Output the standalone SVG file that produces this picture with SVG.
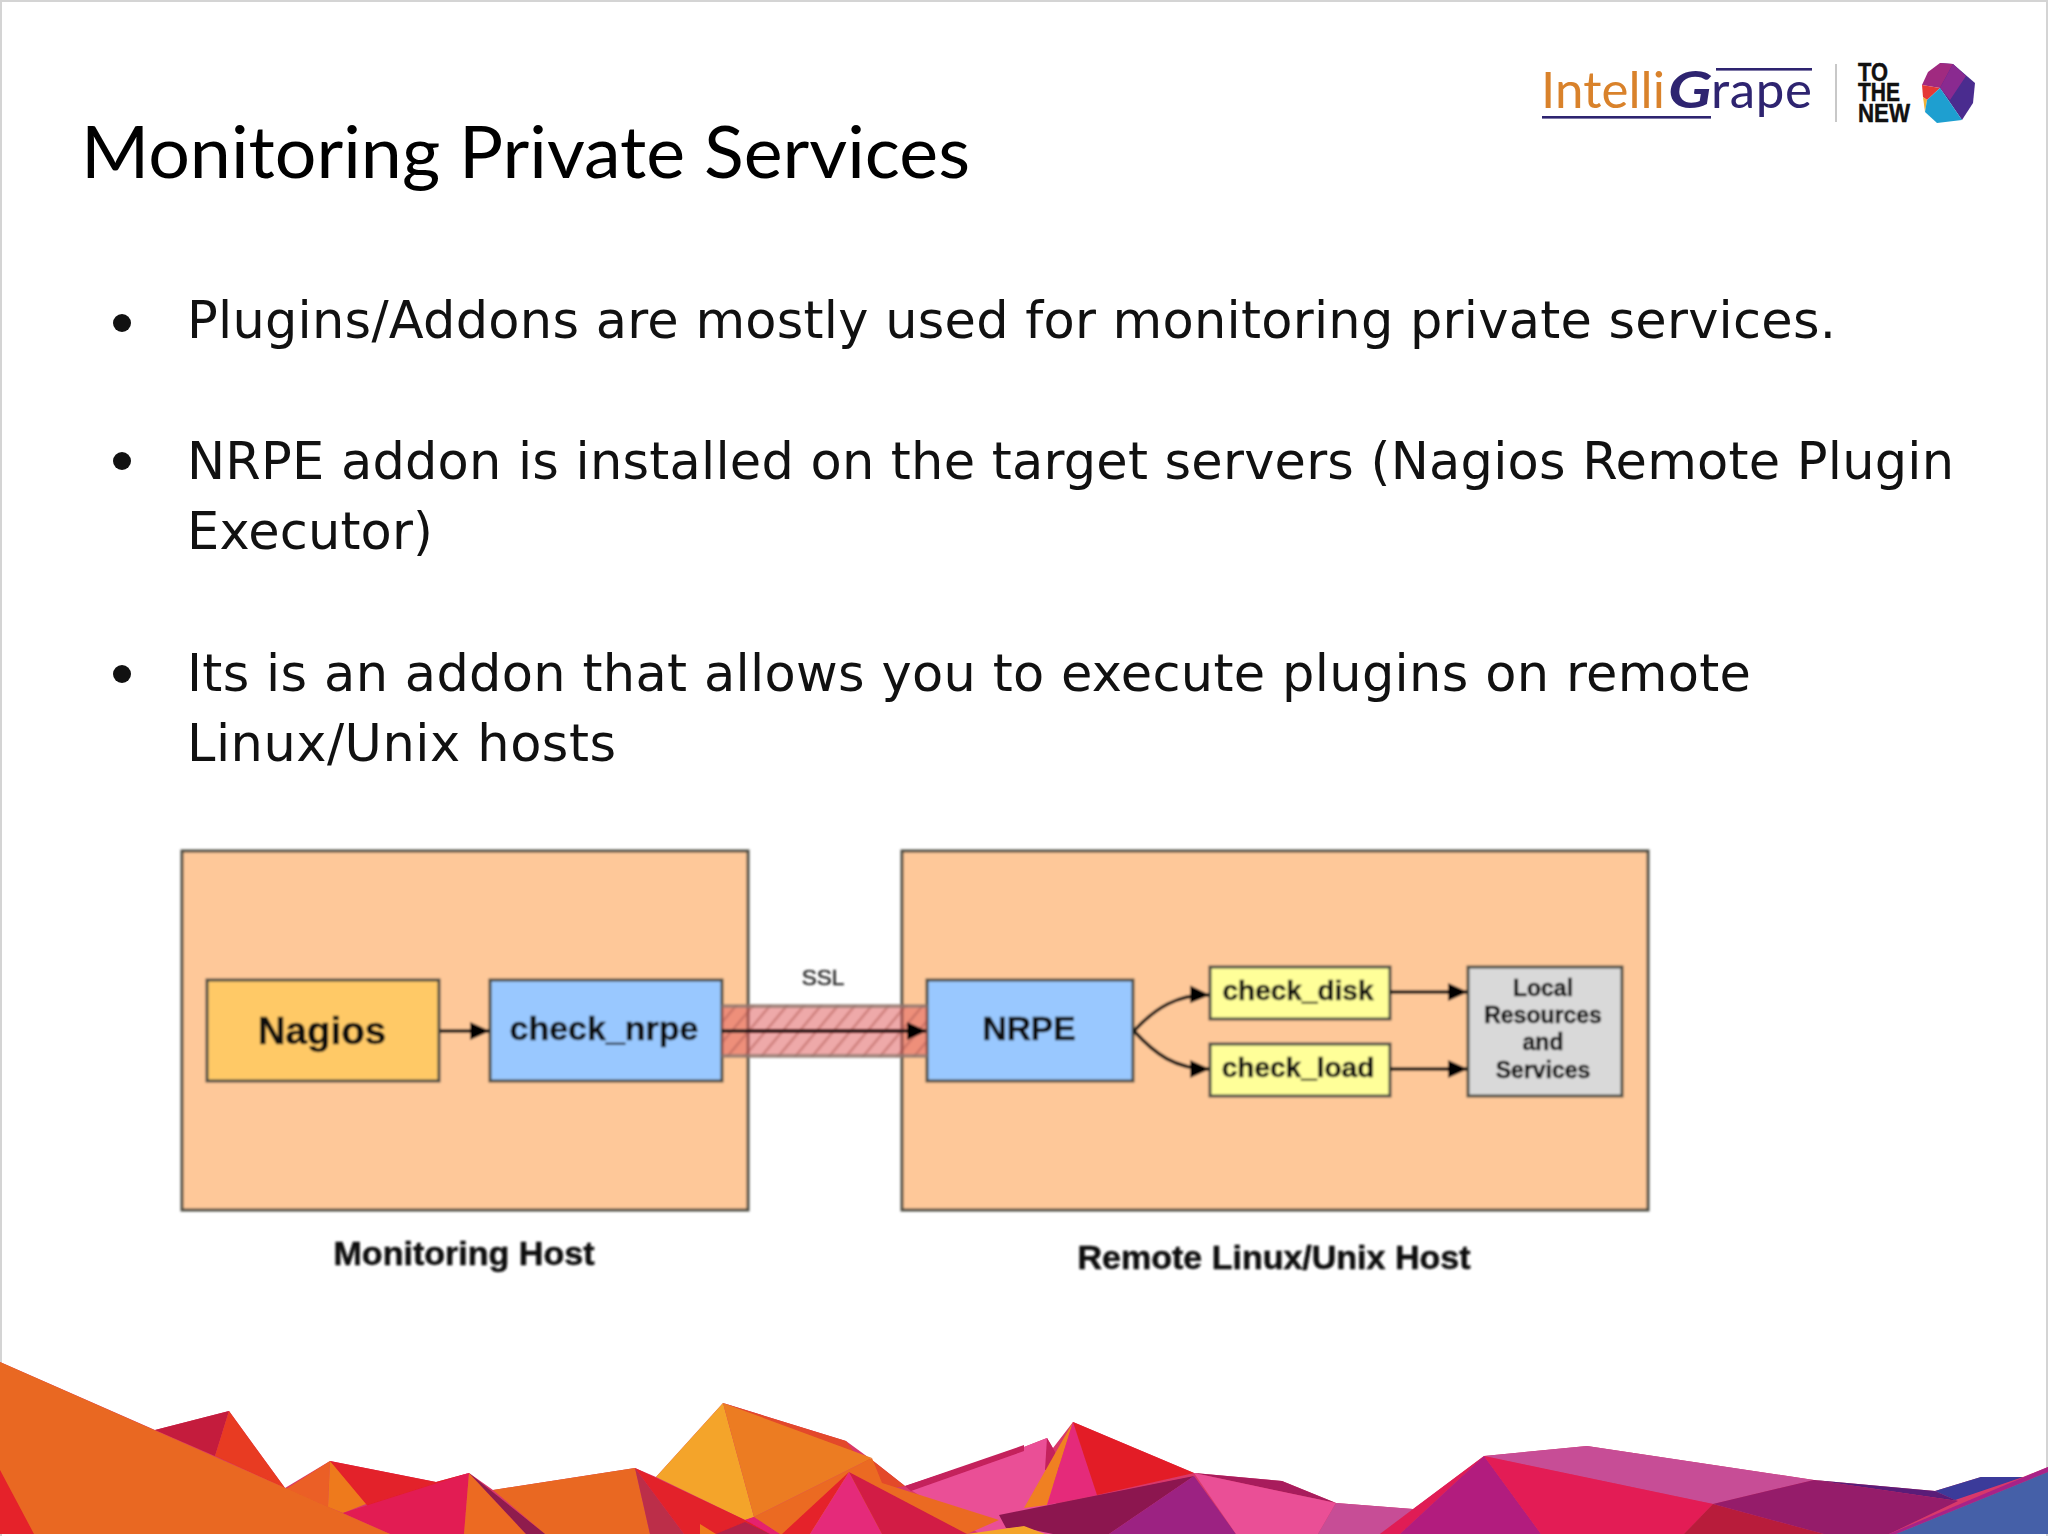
<svg xmlns="http://www.w3.org/2000/svg" width="2048" height="1536" viewBox="0 0 2048 1536">
<style>
.body{font-family:"DejaVu Sans",sans-serif;font-size:51px;fill:#111}
.title{font-family:Lato,"Liberation Sans",sans-serif;font-size:71px;fill:#000}
.box{stroke:#4e4e44;stroke-width:3}
.b{font-family:"Liberation Sans",Arial,sans-serif;font-weight:bold;text-anchor:middle;fill:#111;stroke:#111;stroke-width:.5}
.r{font-family:"Liberation Sans",Arial,sans-serif;text-anchor:middle;fill:#333;stroke:#333;stroke-width:.6}
.c{fill:none;stroke:#111;stroke-width:3.500}
.lg{font-family:Lato,"Open Sans",sans-serif;font-size:51px}
.tn{font-family:"Liberation Sans",sans-serif;font-weight:bold;font-size:26px;fill:#111;stroke:#111;stroke-width:.5}
</style>
<defs>
<filter id="soft" x="-2%" y="-2%" width="104%" height="104%"><feGaussianBlur stdDeviation="0.9"/></filter>
<filter id="soft2" x="-1%" y="-5%" width="102%" height="110%"><feGaussianBlur stdDeviation="0.5"/></filter>
<pattern id="hatch" width="13" height="13" patternUnits="userSpaceOnUse" patternTransform="rotate(40)"><rect width="2.500" height="13" fill="#a8544e" opacity=".45"/></pattern>
<marker id="arr" markerUnits="userSpaceOnUse" markerWidth="20" markerHeight="20" refX="19" refY="10" orient="auto"><path d="M0 1L20 10L0 19Z" fill="#000"/></marker>
</defs>
<rect width="2048" height="1536" fill="#fff"/>
<path d="M1 1536V1H2047V1536" fill="none" stroke="#d4d4d4" stroke-width="2"/>

<g id="mountains" filter="url(#soft2)">
<polygon points="0,1362 155,1430 229,1411 285,1488 330,1461 436,1482 469,1473 493,1490 635,1468 656,1477 723,1403 846,1441 872,1460 905,1486 1024,1447 1047,1438 1053,1448 1073,1422 1194,1473 1282,1481 1336,1503 1413,1509 1484,1456 1587,1446 1814,1480 1935,1491 1981,1477 2023,1477 2048,1467 2048,1534 0,1534" fill="#D8386A"/>
<polygon points="155,1430 229,1411 215,1456" fill="#C41E3C"/>
<polygon points="229,1411 285,1488 215,1456" fill="#E83A24"/>
<polygon points="286,1489 330,1461 328,1507" fill="#EB5E27"/>
<polygon points="330,1461 371,1502 343,1513 328,1507" fill="#EE7A1E"/>
<polygon points="330,1461 436,1482 469,1473 371,1510" fill="#E3202B"/>
<polygon points="911,1490 1024,1447 1047,1438 1060,1534 980,1534" fill="#EA4F96"/>
<polygon points="905,1486 1024,1445 1024,1451 911,1491" fill="#C4205C"/>
<polygon points="1047,1438 1055,1452 1060,1470 1045,1470" fill="#C4205C"/>
<polygon points="846,1441 723,1403 872,1460 905,1486 882,1490" fill="#E3482A"/>
<polygon points="723,1403 656,1477 745,1520 754,1517" fill="#F4A42B"/>
<polygon points="723,1403 872,1458 754,1517" fill="#EC7C23"/>
<polygon points="493,1490 635,1468 650,1534 545,1534" fill="#E96822"/>
<polygon points="635,1468 684,1534 650,1534" fill="#BC2E4A"/>
<polygon points="635,1468 745,1520 780,1534 684,1534" fill="#E3202B"/>
<polygon points="700,1524 716,1534 700,1534" fill="#EE7A1E"/>
<polygon points="716,1534 745,1522 770,1534" fill="#B02348"/>
<polygon points="745,1520 754,1517 780,1534 770,1534" fill="#E5206E"/>
<polygon points="754,1517 872,1458 882,1483 999,1520 967,1534 780,1534" fill="#EB6B24"/>
<polygon points="782,1534 849,1472 810,1534" fill="#E5202B"/>
<polygon points="849,1472 810,1534 882,1534" fill="#E52B7A"/>
<polygon points="849,1472 882,1534 967,1534" fill="#D21E44"/>
<polygon points="469,1473 343,1513 390,1534 464,1534" fill="#E21C52"/>
<polygon points="469,1473 464,1534 526,1534" fill="#EC6A22"/>
<polygon points="469,1473 526,1534 545,1534" fill="#8F1A4E"/>
<polygon points="0,1362 390,1534 0,1534" fill="#E96822"/>
<polygon points="0,1470 34,1534 0,1534" fill="#E5202B"/>
<polygon points="1073,1422 1024,1508 1047,1505" fill="#F08020"/>
<polygon points="1073,1422 1047,1505 1097,1495" fill="#E52B7A"/>
<polygon points="1073,1422 1097,1495 1194,1473" fill="#E31E26"/>
<polygon points="999,1515 1024,1510 1194,1476 1109,1534 1053,1534 1024,1528 1006,1528" fill="#8C1650"/>
<polygon points="967,1534 1024,1526 1045,1534" fill="#F4A42B"/>
<polygon points="1194,1476 1236,1534 1109,1534" fill="#9C2382"/>
<polygon points="1194,1473 1282,1481 1336,1503" fill="#A81F5C"/>
<polygon points="1194,1473 1336,1503 1318,1534 1236,1534" fill="#EA4F96"/>
<polygon points="1336,1503 1413,1509 1380,1534 1318,1534" fill="#C74E96"/>
<polygon points="1484,1456 1380,1534 1400,1534" fill="#E01C55"/>
<polygon points="1484,1456 1400,1534 1541,1534" fill="#B21E7E"/>
<polygon points="1484,1456 1587,1446 1814,1480 1713,1504" fill="#C74E96"/>
<polygon points="1484,1456 1713,1504 1684,1534 1541,1534" fill="#E31C54"/>
<polygon points="1713,1504 1824,1534 1684,1534" fill="#B81E3A"/>
<polygon points="1814,1480 1935,1491 1955,1500 1958,1501" fill="#5A1F78"/>
<polygon points="1713,1504 1814,1480 1958,1501 1889,1534 1824,1534" fill="#951C6A"/>
<polygon points="1935,1491 1981,1477 2023,1477 1955,1500" fill="#3A3A9A"/>
<polygon points="1889,1534 2048,1467 2048,1472 1896,1534" fill="#A82488"/>
<polygon points="1896,1534 2048,1472 2048,1534" fill="#4561A8"/>
</g>

<g id="logo">
<rect x="1542" y="116" width="169" height="2.600" fill="#2E2470"/>
<rect x="1716" y="68" width="96" height="2.600" fill="#2E2470"/>
<text class="lg" x="1541" y="108" fill="#D9822B" textLength="124">Intelli</text>
<text class="lg" x="1668" y="108" fill="#2E2470" font-weight="bold" font-style="italic" font-size="56" textLength="44" lengthAdjust="spacingAndGlyphs">G</text>
<text class="lg" x="1711" y="108" fill="#2E2470" textLength="101">rape</text>
<rect x="1835" y="64" width="2" height="58" fill="#c8c8c8"/>
<text class="tn" x="1858" y="81" textLength="30" lengthAdjust="spacingAndGlyphs">TO</text>
<text class="tn" x="1858" y="101" textLength="42" lengthAdjust="spacingAndGlyphs">THE</text>
<text class="tn" x="1858" y="122" textLength="52" lengthAdjust="spacingAndGlyphs">NEW</text>
<polygon points="1940,63 1953,64 1975,83 1973,103 1962,120 1940,88" fill="#4A2C8F"/>
<polygon points="1928,72 1940,63 1953,64 1940,88 1922,85" fill="#A02A80"/>
<polygon points="1953,64 1966,76 1950,100 1940,88" fill="#8A2A90"/>
<polygon points="1922,85 1940,88 1927,100 1923,97" fill="#E53935"/>
<polygon points="1923,97 1927,100 1925,112" fill="#F2B134"/>
<polygon points="1940,88 1962,120 1937,123 1925,112 1927,100" fill="#1E9FD0"/>
</g>

<text id="title" class="title" x="81" y="178" textLength="889" lengthAdjust="spacingAndGlyphs">Monitoring Private Services</text>

<g id="bullets">
<circle cx="122" cy="323" r="9" fill="#111"/>
<circle cx="122" cy="461" r="9" fill="#111"/>
<circle cx="122" cy="674" r="9" fill="#111"/>
<text class="body" x="187" y="338" textLength="1649">Plugins/Addons are mostly used for monitoring private services.</text>
<text class="body" x="187" y="479" textLength="1767">NRPE addon is installed on the target servers (Nagios Remote Plugin</text>
<text class="body" x="187" y="549" textLength="246">Executor)</text>
<text class="body" x="187" y="691" textLength="1564">Its is an addon that allows you to execute plugins on remote</text>
<text class="body" x="187" y="761" textLength="429">Linux/Unix hosts</text>
</g>

<g id="diagram" filter="url(#soft)">
<g id="monitoring-host">
<rect class="box" x="182" y="851" width="566" height="359" fill="#FEC899"/>
<text class="b" x="464" y="1265" font-size="33" textLength="261" lengthAdjust="spacingAndGlyphs">Monitoring Host</text>
</g>
<g id="remote-host">
<rect class="box" x="902" y="851" width="746" height="359" fill="#FEC899"/>
<text class="b" x="1274" y="1269" font-size="33" textLength="393" lengthAdjust="spacingAndGlyphs">Remote Linux/Unix Host</text>
</g>
<g id="nagios">
<rect class="box" x="207" y="980" width="232" height="101" fill="#FFC966"/>
<text class="b" x="322" y="1044" font-size="38.500">Nagios</text>
</g>
<g id="check-nrpe">
<rect class="box" x="490" y="980" width="232" height="101" fill="#99C8FF"/>
<text class="b" x="604" y="1040" font-size="34">check_nrpe</text>
</g>
<g id="nrpe">
<rect class="box" x="927" y="980" width="206" height="101" fill="#99C8FF"/>
<text class="b" x="1029" y="1040" font-size="33.500">NRPE</text>
</g>
<g id="check-disk">
<rect class="box" x="1210" y="967" width="180" height="52" fill="#FFFF99"/>
<text class="b" x="1298" y="1000" font-size="28">check_disk</text>
</g>
<g id="check-load">
<rect class="box" x="1210" y="1044" width="180" height="52" fill="#FFFF99"/>
<text class="b" x="1298" y="1077" font-size="28">check_load</text>
</g>
<g id="local-resources">
<rect class="box" x="1468" y="967" width="154" height="129" fill="#D9D9D9"/>
<text class="b" x="1543" y="996" font-size="23">Local</text>
<text class="b" x="1543" y="1023" font-size="23">Resources</text>
<text class="b" x="1543" y="1050" font-size="23">and</text>
<text class="b" x="1543" y="1078" font-size="23">Services</text>
</g>
<g id="ssl-label">
<text class="r" x="823" y="985" font-size="22.500">SSL</text>
</g>
<g id="connectors">
<rect x="722" y="1005" width="205" height="52" fill="#E06060" opacity=".55"/>
<rect x="722" y="1005" width="205" height="52" fill="url(#hatch)"/>
<path d="M722 1006H927M722 1056H927" stroke="#8a7a70" stroke-width="4" opacity=".7" fill="none"/>
<path class="c" d="M440 1031H489" marker-end="url(#arr)"/>
<path class="c" d="M722 1031H926" marker-end="url(#arr)"/>
<path class="c" d="M1134 1031C1155 1008 1178 994 1209 995" marker-end="url(#arr)"/>
<path class="c" d="M1134 1031C1155 1054 1175 1069 1209 1069" marker-end="url(#arr)"/>
<path class="c" d="M1390 992H1467" marker-end="url(#arr)"/>
<path class="c" d="M1390 1069H1467" marker-end="url(#arr)"/>
</g>
</g>
</svg>
